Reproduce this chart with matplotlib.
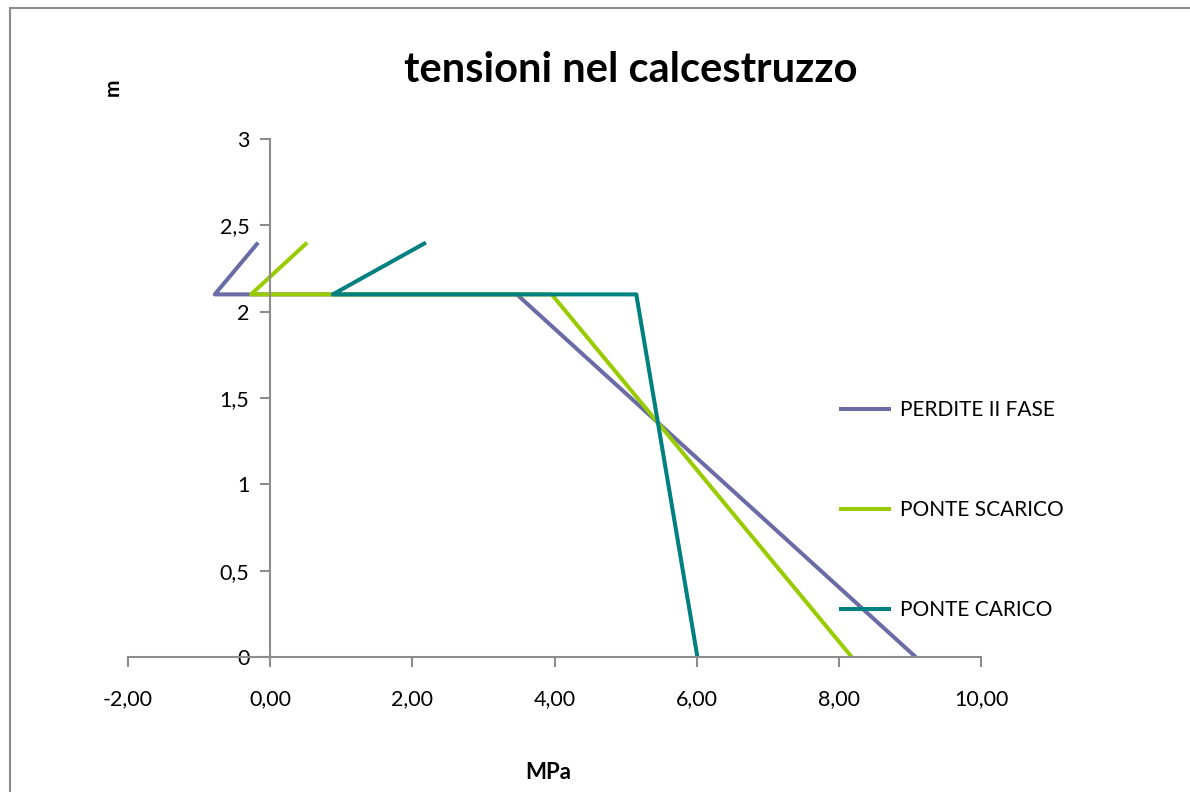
import numpy as np
import matplotlib
matplotlib.use('Agg')
import matplotlib.pyplot as plt
from matplotlib.ticker import FuncFormatter, MultipleLocator
from matplotlib.patches import Rectangle

plt.rcParams['font.family'] = ['Lato', 'DejaVu Sans']

# depth (m) of each point, shared by all three stress profiles
quota = [0.0, 2.1, 2.1, 2.4]

# stress in the concrete (MPa)
perdite_II_fase = [9.08, 3.47, -0.78, -0.17]
ponte_scarico = [8.18, 3.96, -0.27, 0.52]
ponte_carico = [6.01, 5.15, 0.88, 2.19]

serie = ['PERDITE II FASE', 'PONTE SCARICO', 'PONTE CARICO']
colori = ['#6B6BA6', '#99CC00', '#008080']

fig = plt.figure(figsize=(11.9, 7.92), dpi=100)
ax = fig.add_axes([0.1076, 0.1705, 0.7168, 0.654])

for xs, lab, c in zip([perdite_II_fase, ponte_scarico, ponte_carico], serie, colori):
    ax.plot(xs, quota, '-', color=c, lw=2.9, label=lab, solid_capstyle='butt')

ax.set_xlim(-2, 10)
ax.set_ylim(0, 3)
ax.xaxis.set_major_locator(MultipleLocator(2))
ax.yaxis.set_major_locator(MultipleLocator(0.5))
ax.xaxis.set_major_formatter(FuncFormatter(lambda v, p: ('%.2f' % v).replace('.', ',')))
ax.yaxis.set_major_formatter(FuncFormatter(lambda v, p: ('%g' % v).replace('.', ',')))

# y axis sits at x = 0, x axis at y = 0
ax.spines['top'].set_visible(False)
ax.spines['right'].set_visible(False)
ax.spines['left'].set_position(('data', 0))
for s in ['left', 'bottom']:
    ax.spines[s].set_color('#8c8c8c')
    ax.spines[s].set_linewidth(1.5)
ax.tick_params(axis='both', colors='#8c8c8c', labelcolor='black', labelsize=15.5,
               width=1.5, length=7, direction='out')
ax.tick_params(axis='x', pad=16)
ax.tick_params(axis='y', pad=8)

fig.text(0.53, 0.912, 'tensioni nel calcestruzzo', ha='center', va='center',
         fontsize=30, fontweight='bold')
fig.text(0.095, 0.89, 'm', ha='center', va='center', rotation=90,
         fontsize=15, fontweight='bold')
fig.text(0.461, 0.024, 'MPa', ha='center', va='center', fontsize=16, fontweight='bold')

fig.legend(loc='center left', bbox_to_anchor=(0.689, 0.356), frameon=False,
           fontsize=15, labelspacing=3.85, handlelength=2.5, handletextpad=0.45)

# outer chart frame
fig.patches.append(Rectangle((10 / 1190, -0.05), 1.2, 1.05 - 8 / 792,
                             transform=fig.transFigure, fill=False,
                             edgecolor='#8c8c8c', lw=1.5))

fig.savefig('out.png', dpi=100)
